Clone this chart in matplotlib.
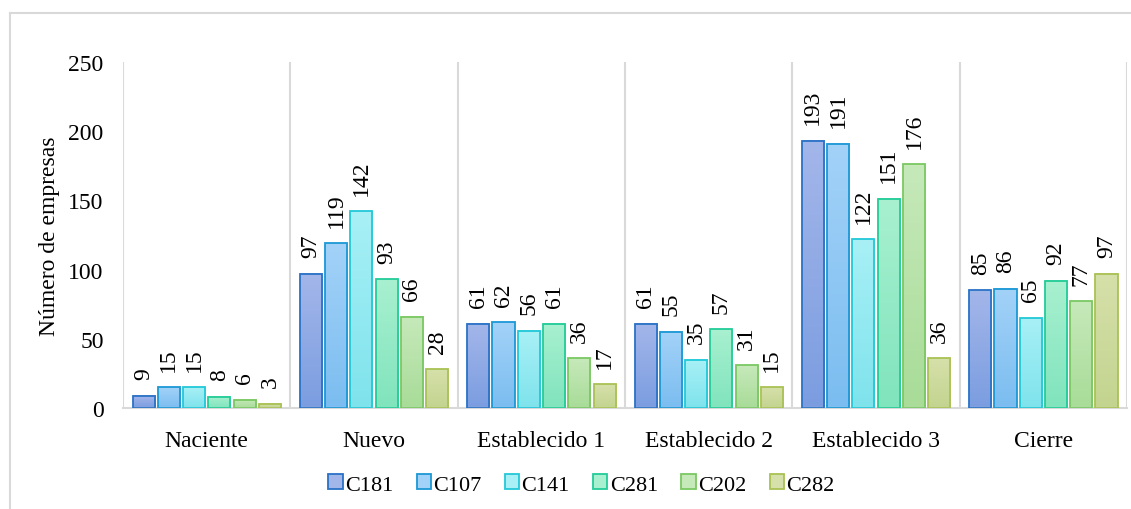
import numpy as np
import matplotlib.pyplot as plt
from matplotlib.colors import LinearSegmentedColormap
from matplotlib.patches import Patch
from matplotlib.lines import Line2D

plt.rcParams['font.family'] = ['Liberation Serif', 'DejaVu Serif']

categories = ['Naciente', 'Nuevo', 'Establecido 1', 'Establecido 2', 'Establecido 3', 'Cierre']
series = ['C181', 'C107', 'C141', 'C281', 'C202', 'C282']
c181 = [9, 97, 61, 61, 193, 85]
c107 = [15, 119, 62, 55, 191, 86]
c141 = [15, 142, 56, 35, 122, 65]
c281 = [8, 93, 61, 57, 151, 92]
c202 = [6, 66, 36, 31, 176, 77]
c282 = [3, 28, 17, 15, 36, 97]
values = [c181, c107, c141, c281, c202, c282]

# edge, gradient top, gradient bottom
styles = [
    ('#2A72C6', '#A3B6EA', '#7B9DE0'),
    ('#1B98D5', '#A3D2F8', '#7BBDF0'),
    ('#22C8D8', '#A8F0F6', '#7FE3EC'),
    ('#22CC98', '#A8F0D0', '#80E4BC'),
    ('#7AC862', '#C6E9BA', '#A8DC98'),
    ('#A9C254', '#D6E0AA', '#C3D48F'),
]


def gradient_bar(ax, x, w, h, edge, top, bottom):
    cmap = LinearSegmentedColormap.from_list('g', [bottom, top])
    grad = np.linspace(0, 1, 64).reshape(-1, 1)
    ax.imshow(grad, cmap=cmap, origin='lower', aspect='auto',
              extent=(x - w / 2, x + w / 2, 0, h), zorder=2, interpolation='bilinear')
    ax.bar(x, h, width=w, facecolor='none', edgecolor=edge, linewidth=1.3, zorder=3)


fig = plt.figure(figsize=(11.31, 5.10), dpi=100)
ax = fig.add_axes([0.1088, 0.198, 0.8877, 0.6785])

n = len(series)
step = 0.151
width = 0.132
x = np.arange(len(categories))
for i, (vals, (edge, top, bottom)) in enumerate(zip(values, styles)):
    offs = (i - (n - 1) / 2) * step
    for xc, v in zip(x, vals):
        gradient_bar(ax, xc + offs, width, v, edge, top, bottom)
        ax.text(xc + offs, v + 12, str(v), rotation=90, ha='center', va='bottom',
                fontsize=17, color='#000000')

ax.set_xlim(-0.5, len(categories) - 0.5)
ax.set_ylim(0, 250)
ax.set_yticks(range(0, 251, 50))
ax.set_xticks(x)
ax.set_xticklabels(categories, fontsize=17)
ax.tick_params(axis='y', labelsize=17, length=0, pad=14)
ax.tick_params(axis='x', length=0, pad=16)
ax.set_ylabel('Número de empresas', fontsize=17, labelpad=6)

for b in np.arange(-0.5, len(categories), 1.0):
    ax.axvline(b, color='#D9D9D9', linewidth=1.5, zorder=1)
for s in ['top', 'right']:
    ax.spines[s].set_visible(False)
ax.spines['left'].set_visible(False)
ax.spines['bottom'].set_color('#D9D9D9')
ax.spines['bottom'].set_linewidth(1.5)

handles = [Patch(facecolor=top, edgecolor=edge, linewidth=1.3) for edge, top, _ in styles]
fig.legend(handles, series, loc='center', bbox_to_anchor=(0.514, 0.048), ncol=6,
           frameon=False, fontsize=16, handlelength=0.65, handleheight=0.65,
           handletextpad=0.1, columnspacing=1.05)

# outer chart frame
fig.add_artist(Line2D([10 / 1131, 10 / 1131], [0, 1 - 14 / 510], color='#D9D9D9',
                      linewidth=1.5, transform=fig.transFigure))
fig.add_artist(Line2D([10 / 1131, 1], [1 - 14 / 510, 1 - 14 / 510], color='#D9D9D9',
                      linewidth=1.5, transform=fig.transFigure))

fig.savefig('out.png', dpi=100)
